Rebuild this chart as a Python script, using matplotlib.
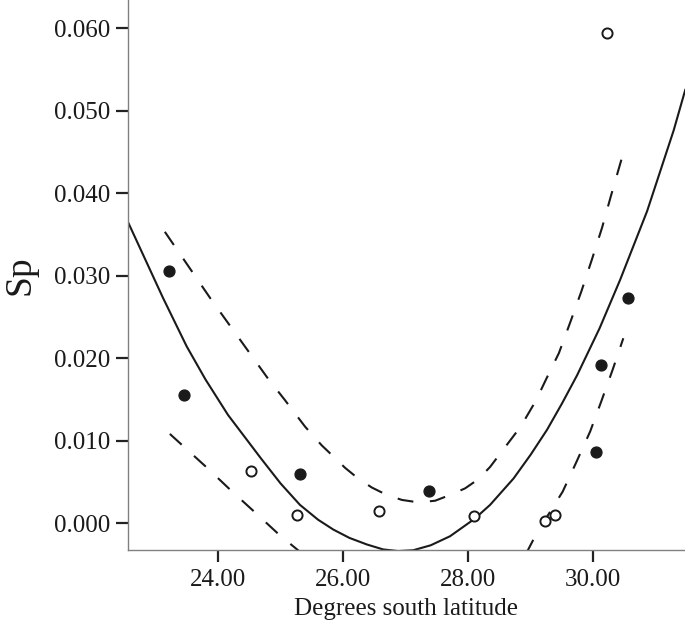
import matplotlib
matplotlib.use('Agg')
import matplotlib.pyplot as plt
from matplotlib.ticker import FormatStrFormatter

plt.rcParams['font.family'] = ['Liberation Serif', 'DejaVu Serif']
plt.rcParams['lines.scale_dashes'] = False

# points
filled_x = [23.22, 23.46, 25.31, 27.38, 30.04, 30.12, 30.55]
filled_y = [0.0305, 0.0155, 0.0060, 0.0039, 0.0086, 0.0191, 0.0273]
open_x = [24.52, 25.27, 26.57, 28.10, 29.23, 29.39, 30.22]
open_y = [0.0063, 0.0010, 0.0014, 0.0008, 0.0003, 0.0010, 0.0594]

# fitted curve (solid)
fit_x = [22.56, 23.12, 23.50, 23.80, 24.16, 24.69, 25.00, 25.31, 25.60, 25.845,
         26.10, 26.38, 26.64, 26.88, 27.12, 27.40, 27.71, 28.10, 28.35, 28.725,
         29.00, 29.26, 29.50, 29.74, 30.10, 30.43, 30.86, 31.285, 31.47]
fit_y = [0.0365, 0.0273, 0.0214, 0.0174, 0.0131, 0.0078, 0.0048, 0.0022, 0.0004, -0.0008,
         -0.0018, -0.0026, -0.0032, -0.0034, -0.0033, -0.0027, -0.0016, 0.0005, 0.0022, 0.0054,
         0.0083, 0.0113, 0.0145, 0.0179, 0.0236, 0.0295, 0.0378, 0.0476, 0.0525]

# upper dashed band
up_x = [23.15, 23.89, 24.80, 25.07, 25.39, 25.66, 25.84, 26.03, 26.24, 26.46,
        26.70, 26.94, 27.205, 27.47, 27.71, 27.95, 28.16, 28.35, 28.84, 29.08,
        29.25, 29.45, 29.63, 29.81, 29.98, 30.14, 30.28, 30.47]
up_y = [0.0353, 0.0271, 0.0175, 0.0149, 0.0117, 0.0094, 0.0081, 0.0067, 0.0054, 0.0043,
        0.0034, 0.0028, 0.0025, 0.0027, 0.0034, 0.0042, 0.0053, 0.0068, 0.0117, 0.0148,
        0.0175, 0.0206, 0.0243, 0.0281, 0.0320, 0.0358, 0.0396, 0.0446]

# lower dashed band (middle part runs below the axis)
lo_x = [23.23, 23.81, 24.20, 24.59, 24.99, 25.28, 25.80, 26.50, 27.20, 27.90,
        28.60, 29.09, 29.51, 29.73, 29.95, 30.13, 30.31, 30.48]
lo_y = [0.0108, 0.0068, 0.0040, 0.0013, -0.0015, -0.0033, -0.0065, -0.0100, -0.0120, -0.0112,
        -0.0085, -0.0013, 0.0038, 0.0074, 0.0111, 0.0148, 0.0186, 0.0224]

x_ticks = [24, 26, 28, 30]
y_ticks = [0.0, 0.01, 0.02, 0.03, 0.04, 0.05, 0.06]

fig = plt.figure(figsize=(6.85, 6.2), dpi=100)
ax = fig.add_axes([128 / 685, 70 / 620, 557 / 685, 550 / 620])

ink = '#1a1a1a'
ax.plot(fit_x, fit_y, color=ink, lw=1.5, solid_joinstyle='round')
ax.plot(up_x, up_y, color=ink, lw=1.5, dashes=(11.5, 12))
ax.plot(lo_x, lo_y, color=ink, lw=1.5, dashes=(11.5, 12))

ax.plot(filled_x, filled_y, 'o', ms=7.8, mfc=ink, mec=ink, mew=1.0, ls='none')
ax.plot(open_x, open_y, 'o', ms=7.3, mfc='white', mec=ink, mew=1.4, ls='none')

ax.set_xlim(22.561, 31.466)
ax.set_ylim(-0.00327, 0.0634)
ax.set_xticks(x_ticks)
ax.set_yticks(y_ticks)
ax.xaxis.set_major_formatter(FormatStrFormatter('%.2f'))
ax.yaxis.set_major_formatter(FormatStrFormatter('%.3f'))

for s in ['top', 'right']:
    ax.spines[s].set_visible(False)
for s in ['left', 'bottom']:
    ax.spines[s].set_color('#808080')
    ax.spines[s].set_linewidth(1.0)

ax.tick_params(direction='out', length=8.5, width=1.6, color='#222222',
               labelsize=18, labelcolor=ink, pad=4)
ax.tick_params(axis='x', pad=5)

ax.set_xlabel('Degrees south latitude', fontsize=18, color=ink, labelpad=5)
ax.set_ylabel('Sp', fontsize=27, color=ink, labelpad=12)

fig.savefig('out.png', dpi=100)
